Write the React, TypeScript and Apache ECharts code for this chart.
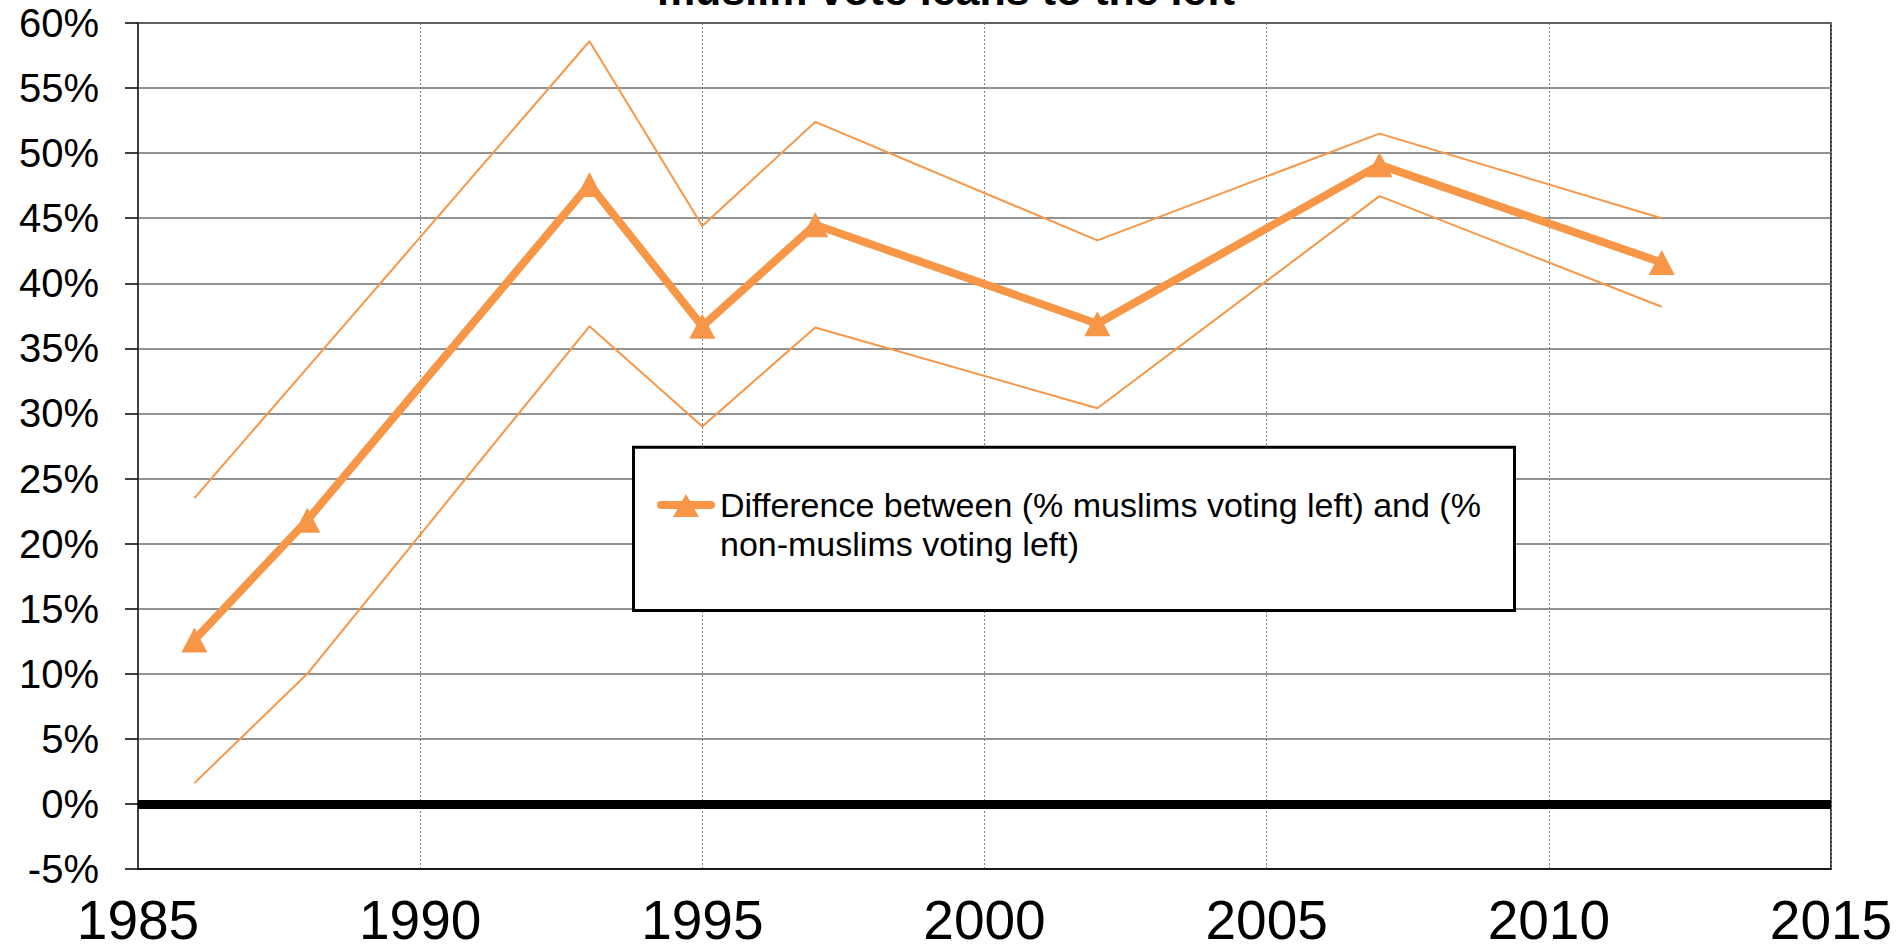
import React, { useEffect, useRef } from "react";
import * as echarts from "echarts";

const years = [1986, 1988, 1993, 1995, 1997, 2002, 2007, 2012];
const difference = [12.6, 21.8, 47.6, 36.7, 44.5, 36.9, 49.1, 41.6];
const upperBound = [23.5, 33.5, 58.6, 44.4, 52.4, 43.3, 51.5, 45.0];
const lowerBound = [1.6, 10.0, 36.7, 29.0, 36.6, 30.4, 46.7, 38.2];

const titleText = "muslim vote leans to the left";
const seriesName = "Difference between (% muslims voting left) and (% non-muslims voting left)";
const legendLines = ["Difference between (% muslims voting left) and (%", "non-muslims voting left)"];

const xMin = 1985;
const xMax = 2015;
const xStep = 5;
const yMin = -5;
const yMax = 60;
const yStep = 5;

const ORANGE = "#F79646";
const FONT = "'Liberation Sans', Arial, Helvetica, sans-serif";

export default function App() {
  const ref = useRef<HTMLDivElement>(null);

  useEffect(() => {
    document.body.style.margin = "0";
    if (!ref.current) return;
    const chart = echarts.init(ref.current, null, { renderer: "svg" });

    const pair = (vals: number[]) => years.map((y, i) => [y, vals[i]]);

    chart.setOption({
      animation: false,
      backgroundColor: "#ffffff",
      textStyle: { fontFamily: FONT },
      grid: {
        left: 138,
        right: 72,
        top: 23,
        bottom: 80,
        show: true,
        borderColor: "#000000",
        borderWidth: 1.5,
        backgroundColor: "transparent",
      },
      xAxis: {
        type: "value",
        min: xMin,
        max: xMax,
        interval: xStep,
        axisLine: { show: true, onZero: false, lineStyle: { color: "#000000", width: 1.5 } },
        axisTick: { show: false },
        axisLabel: {
          fontSize: 55,
          color: "#000000",
          fontFamily: FONT,
          margin: 23,
          formatter: (v: number) => String(v),
        },
        splitLine: {
          show: true,
          lineStyle: { color: "#808080", width: 1, type: [2, 2] },
        },
      },
      yAxis: {
        type: "value",
        min: yMin,
        max: yMax,
        interval: yStep,
        axisLine: { show: true, onZero: false, lineStyle: { color: "#404040", width: 2 } },
        axisTick: { show: true, inside: false, length: 13, lineStyle: { color: "#000000", width: 1.5 } },
        axisLabel: {
          fontSize: 40,
          color: "#000000",
          fontFamily: FONT,
          margin: 39,
          formatter: "{value}%",
        },
        splitLine: { show: true, lineStyle: { color: "#6e6e6e", width: 1.5, type: "solid" } },
      },
      legend: { show: false },
      series: [
        {
          name: "upper",
          type: "line",
          data: pair(upperBound),
          symbol: "none",
          lineStyle: { color: ORANGE, width: 2 },
          itemStyle: { color: ORANGE },
          z: 3,
        },
        {
          name: "lower",
          type: "line",
          data: pair(lowerBound),
          symbol: "none",
          lineStyle: { color: ORANGE, width: 2 },
          itemStyle: { color: ORANGE },
          z: 3,
        },
        {
          name: seriesName,
          type: "line",
          data: pair(difference),
          symbol: "triangle",
          symbolSize: [26, 25],
          lineStyle: { color: ORANGE, width: 8 },
          itemStyle: { color: ORANGE },
          z: 4,
          markLine: {
            silent: true,
            symbol: ["none", "none"],
            label: { show: false },
            lineStyle: { color: "#000000", width: 9, type: "solid" },
            data: [{ yAxis: 0 }],
            z: 2,
          },
        },
      ],
      graphic: [
        {
          type: "text",
          x: 946,
          y: -10,
          style: {
            text: titleText,
            fill: "#000000",
            fontSize: 43,
            fontWeight: "bold",
            fontFamily: FONT,
            textAlign: "center",
            textVerticalAlign: "middle",
            verticalAlign: "middle",
          },
          z: 10,
        },
        {
          type: "rect",
          shape: { x: 633.5, y: 447.2, width: 881, height: 163.3 },
          style: { fill: "#ffffff", stroke: "#000000", lineWidth: 3 },
          z: 20,
        },
        {
          type: "line",
          shape: { x1: 661, y1: 505, x2: 711, y2: 505 },
          style: { stroke: ORANGE, lineWidth: 8, lineCap: "round" },
          z: 21,
        },
        {
          type: "polygon",
          shape: { points: [[686, 494], [673, 517], [699, 517]] },
          style: { fill: ORANGE },
          z: 22,
        },
        {
          type: "text",
          x: 720,
          y: 485,
          style: {
            text: legendLines.join("\n"),
            fill: "#000000",
            fontSize: 34,
            lineHeight: 39,
            fontFamily: FONT,
            textAlign: "left",
            textVerticalAlign: "top",
            verticalAlign: "top",
          },
          z: 22,
        },
      ],
    });

    return () => chart.dispose();
  }, []);

  return (
    <div
      ref={ref}
      style={{ position: "absolute", left: 0, top: 0, width: 1903, height: 949 }}
    />
  );
}
